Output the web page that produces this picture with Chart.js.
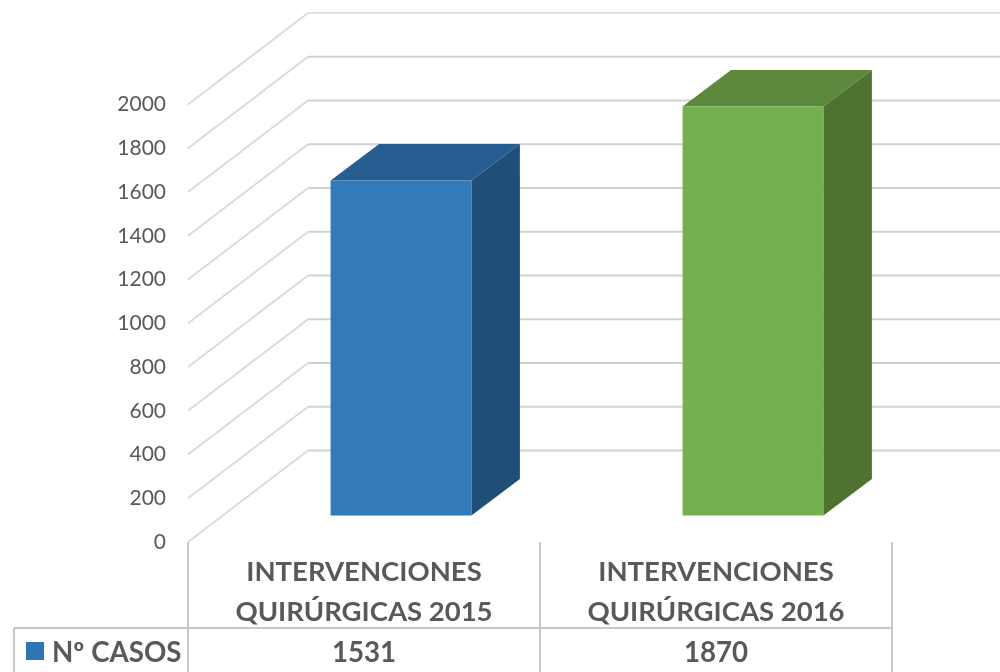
<!DOCTYPE html>
<html><head><meta charset="utf-8">
<style>html,body{margin:0;padding:0;background:#fff;overflow:hidden}canvas{display:block}</style>
<script src="https://cdn.jsdelivr.net/npm/chart.js@4"></script></head>
<body><canvas id="c" width="1000" height="672"></canvas>
<script>
const categories = [["INTERVENCIONES","QUIRÚRGICAS 2015"],["INTERVENCIONES","QUIRÚRGICAS 2016"]];
const seriesName = "Nº CASOS";
const casos = [1531, 1870];
const frontColors = ["#337ab9","#75b04e"];
const topColors = ["#265e92","#5c893c"];
const sideColors = ["#1f4e79","#4e722f"];
const legendColor = "#2e75b6";
const textColor = "#595959";
const FONT = "Lato";

const depth3d = {
  id:'depth3d',
  beforeDatasetsDraw(chart){
    const c = chart.ctx, y = chart.scales.y, x = chart.scales.x, a = chart.chartArea;
    c.save();
    // walls
    y.ticks.forEach(t=>{
      const py = y.getPixelForValue(t.value);
      c.lineWidth = 2;
      c.strokeStyle = '#dadada';
      c.beginPath(); c.moveTo(a.left,py); c.lineTo(a.left+120,py-91.5); c.stroke();
      c.strokeStyle = t.value===2000 ? '#e2e2e2' : '#d2d2d2';
      c.beginPath(); c.moveTo(a.left+120,py-91.5); c.lineTo(1000,py-91.5); c.stroke();
    });
    // data table
    c.strokeStyle = '#c8c8c8'; c.lineWidth = 2;
    const m = x.getPixelForTick(0)*2 - a.left;
    const r = a.right;
    c.beginPath();
    [a.left,m,r].forEach(px=>{c.moveTo(px,a.bottom);c.lineTo(px,672);});
    c.moveTo(14,628);c.lineTo(r,628);
    c.moveTo(14,628);c.lineTo(14,672);
    c.stroke();
    c.fillStyle = legendColor; c.fillRect(26,642,18,18);
    c.fillStyle = textColor; c.textBaseline='middle';
    c.font = `bold 27.7px ${FONT}`; c.textAlign='left';
    c.fillText(seriesName,52,653);
    c.textAlign='center';
    casos.forEach((v,i)=>c.fillText(String(v),x.getPixelForTick(i),653));
    c.restore();
    // bars sit mid-depth on the floor
    c.save(); c.translate(37,-26.5);
    const meta = chart.getDatasetMeta(0);
    meta.data.forEach((b,i)=>{
      const l=b.x-b.width/2, rr=b.x+b.width/2, dx=48.5, dy=-36.5;
      c.fillStyle = topColors[i];
      c.beginPath();c.moveTo(l,b.y);c.lineTo(l+dx,b.y+dy);c.lineTo(rr+dx,b.y+dy);c.lineTo(rr,b.y);c.closePath();c.fill();
      c.fillStyle = sideColors[i];
      c.beginPath();c.moveTo(rr,b.y);c.lineTo(rr+dx,b.y+dy);c.lineTo(rr+dx,b.base+dy);c.lineTo(rr,b.base);c.closePath();c.fill();
    });
  },
  afterDatasetsDraw(chart){ chart.ctx.restore(); }
};

new Chart(document.getElementById('c'),{
  type:'bar',
  data:{labels:categories,datasets:[{label:seriesName,data:casos,backgroundColor:frontColors,barPercentage:0.4,categoryPercentage:1,clip:false}]},
  options:{
    responsive:false,animation:false,
    layout:{padding:{top:104.5,right:108,left:0,bottom:0}},
    plugins:{legend:{display:false},tooltip:{enabled:false},title:{display:false}},
    scales:{
      x:{grid:{display:false},border:{display:false},
        afterFit(s){s.height=130;},
        ticks:{maxRotation:0,autoSkip:false,padding:2,color:textColor,font:{family:FONT,size:27.5,weight:'bold',lineHeight:1.45}}},
      y:{min:0,max:2000,grid:{display:false},border:{display:false},
        afterFit(s){s.width=188;},
        ticks:{stepSize:200,padding:14,color:textColor,font:{family:FONT,size:21},callback:v=>String(v)}}
    }
  },
  plugins:[depth3d]
});
</script></body></html>
